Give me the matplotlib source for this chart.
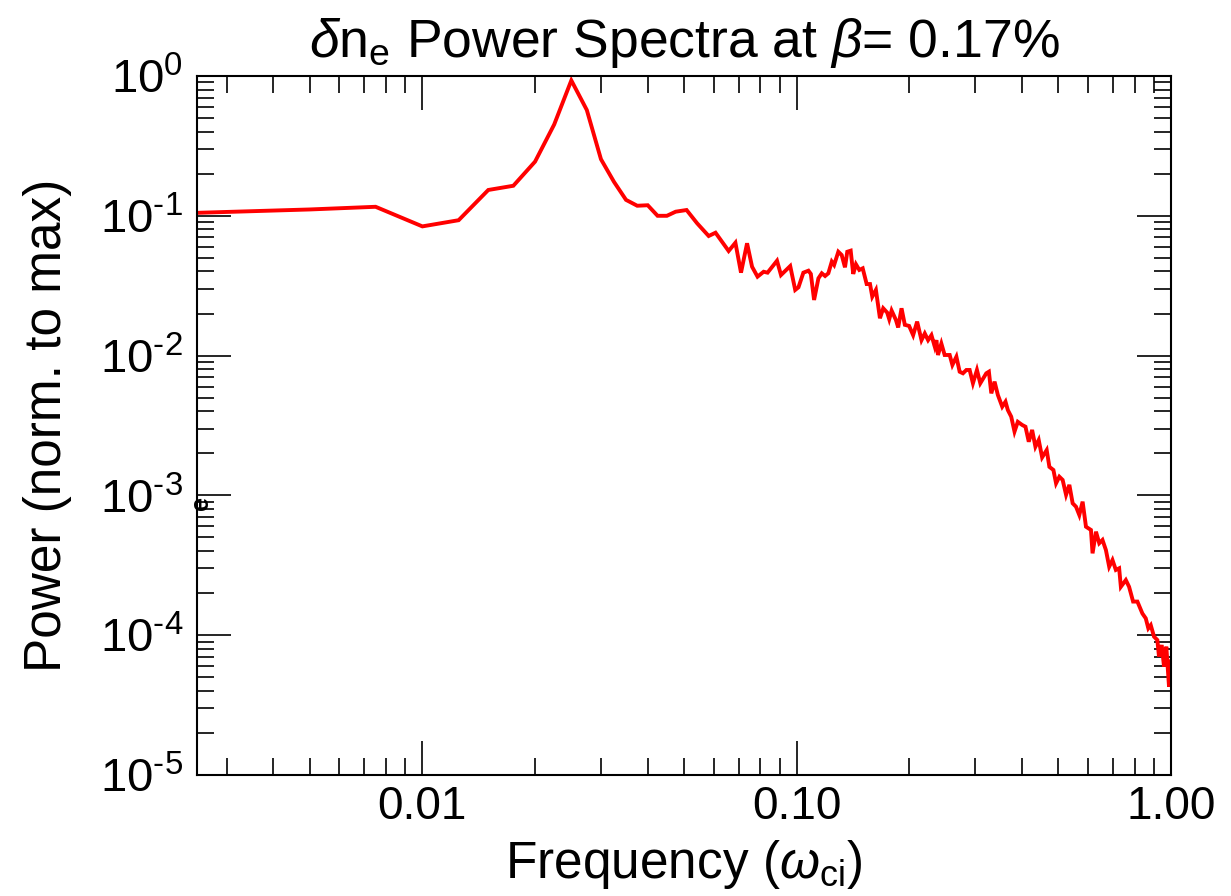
import matplotlib
matplotlib.use("Agg")
import matplotlib.pyplot as plt
from matplotlib.ticker import LogLocator, FixedLocator, FuncFormatter, NullFormatter

plt.rcParams['font.family'] = ['Liberation Sans', 'DejaVu Sans']
plt.rcParams['mathtext.fontset'] = 'custom'
plt.rcParams['mathtext.rm'] = 'Liberation Sans'
plt.rcParams['mathtext.it'] = 'Liberation Sans:italic'
plt.rcParams['mathtext.bf'] = 'Liberation Sans:bold'

# ---- data ----
freq = [0.0025, 0.005, 0.0075, 0.01, 0.0125, 0.015, 0.0175, 0.02, 0.0225, 0.025,
        0.0275, 0.03, 0.0325, 0.035, 0.0375, 0.04, 0.0425, 0.045, 0.0475,
        0.0508, 0.0542, 0.0582, 0.0607, 0.0658, 0.0686, 0.0710, 0.0737, 0.0760, 0.0786,
        0.0816, 0.0836, 0.0886, 0.0908, 0.0961, 0.0991, 0.1011, 0.1042, 0.1075, 0.1091,
        0.1113, 0.1143, 0.1167, 0.1191, 0.1215, 0.1241, 0.1259, 0.1292, 0.1319, 0.1346,
        0.1365, 0.1394, 0.1416, 0.1440, 0.1470, 0.1501, 0.1538, 0.1570, 0.1592, 0.1628,
        0.1669, 0.1703, 0.1745, 0.1767, 0.1793, 0.1841, 0.1867, 0.1906, 0.1945, 0.1997,
        0.2047, 0.2098, 0.2155, 0.2199, 0.2244, 0.2291, 0.2338, 0.2362, 0.2385, 0.2435,
        0.2485, 0.2563, 0.2606, 0.2671, 0.2725, 0.2781, 0.2840, 0.2898, 0.2957, 0.3031,
        0.3094, 0.3210, 0.3262, 0.3311, 0.3378, 0.3447, 0.3541, 0.3613, 0.3665, 0.3742,
        0.3819, 0.3897, 0.4003, 0.4085, 0.4169, 0.4256, 0.4343, 0.4432, 0.4526, 0.4655,
        0.4733, 0.4851, 0.4931, 0.5032, 0.5135, 0.5244, 0.5351, 0.5461, 0.5575, 0.5689,
        0.5806, 0.5927, 0.6111, 0.6172, 0.6303, 0.6431, 0.6561, 0.6700, 0.6837, 0.6977,
        0.7123, 0.7269, 0.7346, 0.7574, 0.7727, 0.7920, 0.8133, 0.8386, 0.8562, 0.8698,
        0.8829, 0.9009, 0.9194, 0.9289, 0.9445, 0.9581, 0.9716, 0.9879, 1.0]

power = [0.105, 0.111, 0.116, 0.084, 0.093, 0.153, 0.164, 0.244, 0.45, 0.93,
         0.571, 0.254, 0.175, 0.130, 0.118, 0.119, 0.100, 0.100, 0.107,
         0.110, 0.0884, 0.0717, 0.0757, 0.0560, 0.0642, 0.0392, 0.0636, 0.0432, 0.0367,
         0.0398, 0.0392, 0.0477, 0.0377, 0.0437, 0.0295, 0.0308, 0.0392, 0.0405, 0.0384,
         0.0250, 0.0357, 0.0388, 0.0371, 0.0388, 0.0470, 0.0445, 0.0553, 0.0524, 0.0428,
         0.0553, 0.0563, 0.0384, 0.0450, 0.0410, 0.0421, 0.0325, 0.0325, 0.0264, 0.0295,
         0.0185, 0.0218, 0.0203, 0.0182, 0.0210, 0.0180, 0.0159, 0.0218, 0.0166, 0.0163,
         0.0140, 0.0175, 0.0129, 0.0144, 0.0129, 0.0140, 0.0116, 0.0129, 0.0101, 0.0122,
         0.0101, 0.0101, 0.00857, 0.00982, 0.00767, 0.00747, 0.00789, 0.00789, 0.00634, 0.00789,
         0.00634, 0.00747, 0.00767, 0.00537, 0.00651, 0.00523, 0.00431, 0.00468, 0.00408, 0.00366,
         0.00286, 0.00336, 0.00319, 0.00310, 0.00242, 0.00294, 0.00223, 0.00249, 0.00187, 0.00211,
         0.00160, 0.00152, 0.00122, 0.00136, 0.00129, 0.00101, 0.00119, 0.000878, 0.000830, 0.000724,
         0.000902, 0.000597, 0.000566, 0.000385, 0.000550, 0.000455, 0.000480, 0.000407, 0.000309, 0.000345,
         0.000293, 0.000301, 0.000222, 0.000248, 0.000222, 0.000174, 0.000174, 0.000143, 0.000132, 0.000112,
         0.000118, 9.76e-5, 9.24e-5, 7.02e-5, 8.51e-5, 5.95e-5, 8.28e-5, 4.28e-5, 6.5e-5]

x_ticks = [0.01, 0.1, 1.0]
x_ticklabels = ["0.01", "0.10", "1.00"]
y_ticks = [1e-5, 1e-4, 1e-3, 1e-2, 1e-1, 1e0]
y_exponents = ["\u20105", "\u20104", "\u20103", "\u20102", "\u20101", "0"]

title = r"$\delta$n$_\mathregular{e}$ Power Spectra at $\beta$= 0.17%"
xlabel = r"Frequency ($\omega_\mathregular{ci}$)"
ylabel = "Power (norm. to max)"

# ---- figure ----
fig = plt.figure(figsize=(12.31, 8.96), dpi=100)
ax = fig.add_axes([197/1231, 121/896, 974/1231, 699/896])

ax.plot(freq, power, color='#ff0000', lw=2.8, solid_joinstyle='miter')
ax.set_xscale('log')
ax.set_yscale('log')
ax.set_xlim(0.0025, 1.0)
ax.set_ylim(1e-5, 1.0)


def xfmt(v, pos):
    i = min(range(len(x_ticks)), key=lambda k: abs(x_ticks[k] - v) / x_ticks[k])
    return x_ticklabels[i]


def yfmt(v, pos):
    i = min(range(len(y_ticks)), key=lambda k: abs(y_ticks[k] - v) / y_ticks[k])
    return r"$\mathregular{10^{%s}}$" % y_exponents[i]


ax.xaxis.set_major_locator(FixedLocator(x_ticks))
ax.xaxis.set_major_formatter(FuncFormatter(xfmt))
ax.xaxis.set_minor_locator(LogLocator(base=10, subs=range(2, 10), numticks=20))
ax.xaxis.set_minor_formatter(NullFormatter())

ax.yaxis.set_major_locator(FixedLocator(y_ticks))
ax.yaxis.set_major_formatter(FuncFormatter(yfmt))
ax.yaxis.set_minor_locator(LogLocator(base=10, subs=range(2, 10), numticks=20))
ax.yaxis.set_minor_formatter(NullFormatter())

ax.tick_params(which='both', direction='in', top=True, right=True, width=1.2, color='black')
ax.tick_params(which='major', length=24.5)
ax.tick_params(which='minor', length=12)
ax.tick_params(axis='x', which='major', labelsize=33, pad=7)
ax.tick_params(axis='y', which='major', labelsize=34, pad=10)
for s in ax.spines.values():
    s.set_linewidth(1.5)

ax.set_title(title, fontsize=38.5, pad=14)
ax.set_xlabel(xlabel, fontsize=37, labelpad=7)
ax.set_ylabel(ylabel, fontsize=37, labelpad=20)

# stray glyph at the left axis near 10^-3
fig.text(201/1231, 1 - 503/896, "e", fontsize=18, fontweight='bold', rotation=90,
         ha='center', va='center')

fig.savefig("out.png", dpi=100)
